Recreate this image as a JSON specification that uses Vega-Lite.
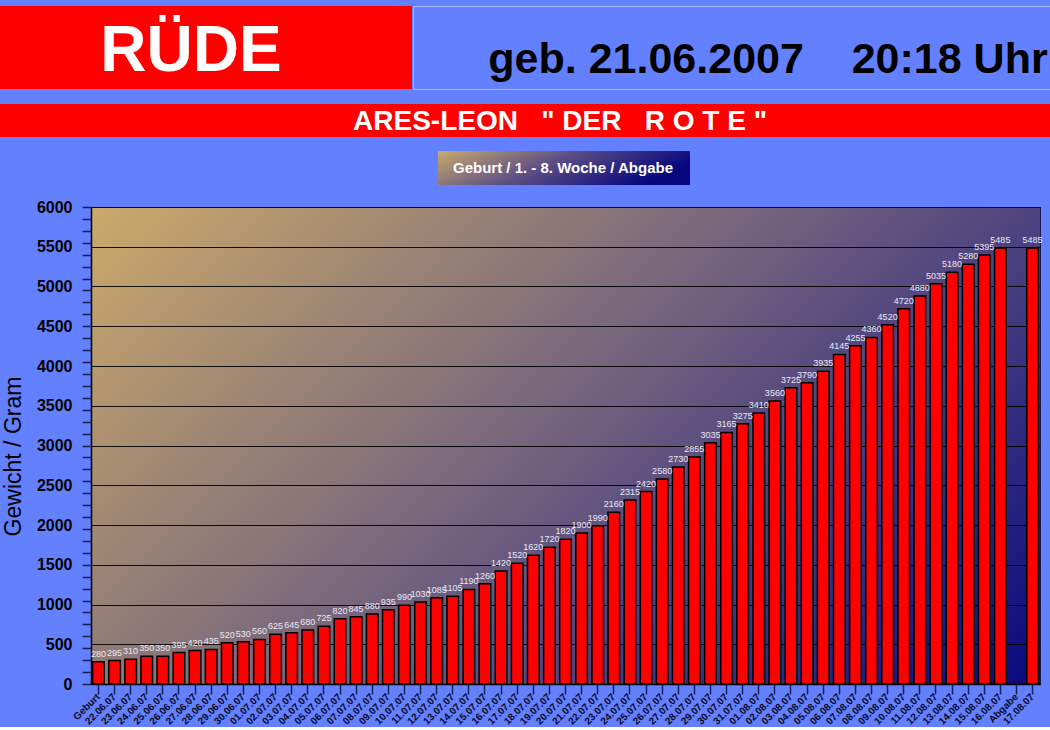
{
  "$schema": "https://vega.github.io/schema/vega-lite/v6.json",
  "background": "#6380ff",
  "padding": {"left": 0, "top": 5, "right": 0, "bottom": 0},
  "columns": 1,
  "align": "none",
  "spacing": 14,
  "config": {"font": "Liberation Sans", "view": {"stroke": null}},
  "datasets": {
    "gewicht": [
      {"datum": "Geburt", "gewicht": 280},
      {"datum": "22.06.07", "gewicht": 295},
      {"datum": "23.06.07", "gewicht": 310},
      {"datum": "24.06.07", "gewicht": 350},
      {"datum": "25.06.07", "gewicht": 350},
      {"datum": "26.06.07", "gewicht": 395},
      {"datum": "27.06.07", "gewicht": 420},
      {"datum": "28.06.07", "gewicht": 435},
      {"datum": "29.06.07", "gewicht": 520},
      {"datum": "30.06.07", "gewicht": 530},
      {"datum": "01.07.07", "gewicht": 560},
      {"datum": "02.07.07", "gewicht": 625},
      {"datum": "03.07.07", "gewicht": 645},
      {"datum": "04.07.07", "gewicht": 680},
      {"datum": "05.07.07", "gewicht": 725},
      {"datum": "06.07.07", "gewicht": 820},
      {"datum": "07.07.07", "gewicht": 845},
      {"datum": "08.07.07", "gewicht": 880},
      {"datum": "09.07.07", "gewicht": 935},
      {"datum": "10.07.07", "gewicht": 990},
      {"datum": "11.07.07", "gewicht": 1030},
      {"datum": "12.07.07", "gewicht": 1085},
      {"datum": "13.07.07", "gewicht": 1105},
      {"datum": "14.07.07", "gewicht": 1190},
      {"datum": "15.07.07", "gewicht": 1260},
      {"datum": "16.07.07", "gewicht": 1420},
      {"datum": "17.07.07", "gewicht": 1520},
      {"datum": "18.07.07", "gewicht": 1620},
      {"datum": "19.07.07", "gewicht": 1720},
      {"datum": "20.07.07", "gewicht": 1820},
      {"datum": "21.07.07", "gewicht": 1900},
      {"datum": "22.07.07", "gewicht": 1990},
      {"datum": "23.07.07", "gewicht": 2160},
      {"datum": "24.07.07", "gewicht": 2315},
      {"datum": "25.07.07", "gewicht": 2420},
      {"datum": "26.07.07", "gewicht": 2580},
      {"datum": "27.07.07", "gewicht": 2730},
      {"datum": "28.07.07", "gewicht": 2855},
      {"datum": "29.07.07", "gewicht": 3035},
      {"datum": "30.07.07", "gewicht": 3165},
      {"datum": "31.07.07", "gewicht": 3275},
      {"datum": "01.08.07", "gewicht": 3410},
      {"datum": "02.08.07", "gewicht": 3560},
      {"datum": "03.08.07", "gewicht": 3725},
      {"datum": "04.08.07", "gewicht": 3790},
      {"datum": "05.08.07", "gewicht": 3935},
      {"datum": "06.08.07", "gewicht": 4145},
      {"datum": "07.08.07", "gewicht": 4255},
      {"datum": "08.08.07", "gewicht": 4360},
      {"datum": "09.08.07", "gewicht": 4520},
      {"datum": "10.08.07", "gewicht": 4720},
      {"datum": "11.08.07", "gewicht": 4880},
      {"datum": "12.08.07", "gewicht": 5035},
      {"datum": "13.08.07", "gewicht": 5180},
      {"datum": "14.08.07", "gewicht": 5280},
      {"datum": "15.08.07", "gewicht": 5395},
      {"datum": "16.08.07", "gewicht": 5485},
      {"datum": "Abgabe", "gewicht": null},
      {"datum": "17.08.07", "gewicht": 5485}
    ]
  },
  "concat": [
    {
      "spacing": 0,
      "hconcat": [
        {
          "width": 412, "height": 83,
          "view": {"fill": "#ff0000", "stroke": null},
          "data": {"values": [{"t": "RÜDE"}]},
          "mark": {"type": "text", "font": "Liberation Sans", "fontWeight": "bold", "fontSize": 64, "color": "#ffffff", "dx": -15, "dy": 4, "baseline": "middle"},
          "encoding": {"text": {"field": "t"}}
        },
        {
          "width": 638, "height": 83,
          "view": {"fill": "#6380ff", "stroke": "#a9b8ff"},
          "data": {"values": [{"t": "geb. 21.06.2007\u00a0\u00a0\u00a0 20:18 Uhr"}]},
          "mark": {"type": "text", "font": "Liberation Sans", "fontWeight": "bold", "fontSize": 43, "color": "#000000", "dx": 36, "dy": 12, "baseline": "middle"},
          "encoding": {"text": {"field": "t"}}
        }
      ]
    },
    {
      "width": 1050, "height": 33,
      "view": {"fill": "#ff0000", "stroke": null},
      "data": {"values": [{"t": "ARES-LEON\u00a0\u00a0\u00a0\"\u00a0DER\u00a0\u00a0\u00a0R\u00a0O\u00a0T\u00a0E\u00a0\""}]},
      "mark": {"type": "text", "font": "Liberation Sans", "fontWeight": "bold", "fontSize": 28, "color": "#ffffff", "dx": 35, "dy": 1, "baseline": "middle"},
      "encoding": {"text": {"field": "t"}}
    },
    {
      "spacing": 0,
      "hconcat": [
        {
          "width": 438, "height": 34,
          "data": {"values": [{"t": ""}]},
          "mark": {"type": "text"},
          "encoding": {"text": {"field": "t"}}
        },
        {
          "width": 252, "height": 34,
          "view": {"fill": {"gradient": "linear", "x1": 0, "y1": 0, "x2": 1, "y2": 0.3, "stops": [{"offset": 0, "color": "#c9aa6b"}, {"offset": 0.5, "color": "#5d4f85"}, {"offset": 1, "color": "#08087e"}]}, "stroke": null},
          "data": {"values": [{"t": "Geburt / 1. - 8. Woche / Abgabe"}]},
          "mark": {"type": "text", "font": "Liberation Sans", "fontWeight": "bold", "fontSize": 15, "color": "#ffffff", "dx": -1, "baseline": "middle"},
          "encoding": {"text": {"field": "t"}}
        }
      ]
    },
    {
      "spacing": 0,
      "bounds": "flush",
      "hconcat": [
        {
          "width": 91, "height": 477,
          "data": {"name": "gewicht"},
          "mark": {"type": "point", "opacity": 0},
          "encoding": {
            "y": {
              "field": "gewicht", "type": "quantitative",
              "scale": {"domain": [0, 6000], "nice": false},
              "axis": {"orient": "left", "offset": -91, "grid": false, "domain": false, "ticks": false, "tickSize": 0, "title": "Gewicht / Gram", "format": "d", "titleFontSize": 23, "titleFontWeight": "normal", "titleColor": "#000000", "titlePadding": 5, "titleY": 249, "minExtent": 61, "maxExtent": 61, "values": [0, 500, 1000, 1500, 2000, 2500, 3000, 3500, 4000, 4500, 5000, 5500, 6000], "labelFontSize": 16, "labelFontWeight": "bold", "labelColor": "#000000", "labelPadding": 19, "labelFlush": false}
            }
          }
        },
        {
          "width": 949, "height": 477,
          "view": {"fill": {"gradient": "linear", "x1": 0, "y1": 0, "x2": 1.2, "y2": 0.6, "stops": [{"offset": 0, "color": "#cbaa6a"}, {"offset": 0.5, "color": "#70607e"}, {"offset": 1, "color": "#08087e"}]}, "stroke": "#1a1a50"},
          "data": {"name": "gewicht"},
          "resolve": {"axis": {"y": "independent"}},
          "encoding": {
            "x": {
              "field": "datum", "type": "nominal", "sort": null,
              "scale": {"paddingInner": 0.28, "paddingOuter": 0.1, "domain": ["Geburt", "22.06.07", "23.06.07", "24.06.07", "25.06.07", "26.06.07", "27.06.07", "28.06.07", "29.06.07", "30.06.07", "01.07.07", "02.07.07", "03.07.07", "04.07.07", "05.07.07", "06.07.07", "07.07.07", "08.07.07", "09.07.07", "10.07.07", "11.07.07", "12.07.07", "13.07.07", "14.07.07", "15.07.07", "16.07.07", "17.07.07", "18.07.07", "19.07.07", "20.07.07", "21.07.07", "22.07.07", "23.07.07", "24.07.07", "25.07.07", "26.07.07", "27.07.07", "28.07.07", "29.07.07", "30.07.07", "31.07.07", "01.08.07", "02.08.07", "03.08.07", "04.08.07", "05.08.07", "06.08.07", "07.08.07", "08.08.07", "09.08.07", "10.08.07", "11.08.07", "12.08.07", "13.08.07", "14.08.07", "15.08.07", "16.08.07", "Abgabe", "17.08.07"]},
              "axis": {"title": null, "labelAngle": -45, "labelAlign": "right", "labelBaseline": "middle", "labelFontSize": 10, "labelFontWeight": "bold", "labelColor": "#0a0a2a", "tickSize": 10, "tickWidth": 1.5, "tickColor": "#1c2050", "domainColor": "#000000", "domainWidth": 1.5, "labelPadding": 1, "grid": false}
            }
          },
          "layer": [
            {
              "mark": {"type": "bar", "color": "#ff0000", "stroke": "#000000", "strokeWidth": 1.5},
              "encoding": {
                "y": {
                  "field": "gewicht", "type": "quantitative",
                  "scale": {"domain": [0, 6000], "nice": false},
                  "axis": {"orient": "left", "title": null, "labels": false, "ticks": false, "domain": true, "domainColor": "#000000", "domainWidth": 1.5, "values": [0, 500, 1000, 1500, 2000, 2500, 3000, 3500, 4000, 4500, 5000, 5500, 6000], "gridColor": "#000000", "gridOpacity": 0.9}
                }
              }
            },
            {
              "mark": {"type": "text", "baseline": "bottom", "dy": -3, "fontSize": 9, "color": "#e8e8f4"},
              "encoding": {
                "y": {
                  "field": "gewicht", "type": "quantitative",
                  "scale": {"domain": [0, 6000], "nice": false},
                  "axis": {"orient": "left", "grid": false, "domain": false, "labels": false, "title": null, "tickSize": 9, "tickWidth": 1.5, "tickColor": "#1c2050", "values": [0, 150, 300, 450, 600, 750, 900, 1050, 1200, 1350, 1500, 1650, 1800, 1950, 2100, 2250, 2400, 2550, 2700, 2850, 3000, 3150, 3300, 3450, 3600, 3750, 3900, 4050, 4200, 4350, 4500, 4650, 4800, 4950, 5100, 5250, 5400, 5550, 5700, 5850, 6000]}
                },
                "text": {"field": "gewicht", "type": "quantitative", "format": "d"}
              }
            }
          ]
        }
      ]
    }
  ]
}
